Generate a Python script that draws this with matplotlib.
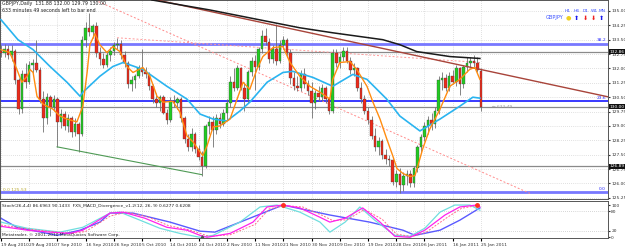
import numpy as np
import matplotlib
matplotlib.use("Agg")
import matplotlib.pyplot as plt

W, H = 625, 249

# daily GBPJPY bars (bar 0 = 19 Aug 2010, bar 136 = 25 Jan 2011)
bar_open = [132.9, 132.8, 133.0, 132.7, 132.9, 131.4, 129.9, 131.7, 131.3, 132.2,
            132.3, 131.9, 130.4, 129.4, 130.5, 130.0, 130.4, 129.2, 129.6, 129.0,
            129.4, 128.7, 129.1, 128.6, 133.5, 134.1, 133.9, 134.2, 132.8, 132.5,
            132.2, 132.7, 132.9, 133.2, 133.3, 132.7, 132.3, 131.2, 131.4, 131.6,
            132.0, 131.8, 131.7, 131.1, 130.4, 130.2, 130.5, 129.7, 129.3, 130.3,
            130.2, 130.4, 129.4, 128.3, 127.9, 128.6, 127.8, 127.4, 126.9, 129.0,
            129.2, 128.8, 129.4, 129.1, 129.7, 130.2, 131.3, 131.0, 132.0, 131.0,
            130.4, 131.8, 132.4, 132.1, 133.0, 133.7, 133.4, 132.5, 133.0, 132.4,
            133.2, 133.5, 132.8, 131.5, 131.1, 131.0, 131.7, 131.2, 130.8, 130.2,
            130.7, 130.5, 131.0, 130.4, 129.8, 132.8, 132.3, 132.6, 132.9, 132.4,
            131.9, 132.0, 131.0, 130.4, 129.8, 129.3, 128.5, 127.9, 128.2, 127.5,
            127.3, 127.2, 126.1, 126.5, 125.9, 126.4, 126.5, 126.0, 126.8, 127.9,
            128.4, 129.0, 129.3, 129.1, 129.8, 131.4, 131.5, 131.0, 131.6, 131.3,
            132.0, 131.2, 132.1, 132.3, 132.4, 132.3, 131.88]
bar_high = [133.2, 133.3, 133.2, 133.2, 133.0, 131.5, 131.9, 132.3, 132.4, 132.5,
            133.5, 132.1, 130.8, 130.7, 130.6, 130.6, 130.5, 129.9, 129.8, 129.6,
            129.5, 129.4, 129.2, 133.7, 134.4, 134.9, 134.3, 134.4, 133.1, 132.8,
            132.9, 133.1, 133.4, 133.6, 133.5, 132.9, 132.4, 131.6, 131.7, 132.2,
            133.0, 132.1, 131.8, 131.2, 130.7, 130.6, 130.6, 129.9, 130.5, 130.6,
            130.5, 130.5, 129.5, 128.6, 128.9, 128.7, 128.0, 127.7, 129.1, 129.5,
            129.5, 129.6, 129.7, 129.9, 130.4, 131.6, 132.0, 132.2, 132.1, 131.3,
            131.9, 132.6, 132.7, 133.1, 134.0, 134.1, 133.6, 133.2, 134.3, 133.5,
            133.7, 133.6, 133.0, 131.8, 131.6, 131.9, 132.0, 131.4, 131.3, 130.9,
            131.1, 131.2, 131.1, 130.5, 133.0, 133.0, 132.8, 133.1, 133.1, 132.6,
            132.3, 132.1, 131.3, 130.6, 130.0, 129.5, 128.9, 128.4, 128.3, 127.8,
            127.5, 127.3, 126.7, 126.8, 126.6, 126.7, 126.7, 126.9, 128.0, 128.6,
            129.2, 129.5, 129.7, 130.0, 131.6, 131.8, 131.7, 131.8, 131.9, 132.2,
            132.1, 132.2, 132.6, 132.6, 132.7, 132.6, 132.00]
bar_low = [132.6, 132.6, 132.5, 132.4, 131.2, 129.6, 129.7, 131.0, 131.2, 131.7,
           131.8, 130.2, 128.7, 129.1, 129.5, 129.8, 127.9, 128.9, 128.8, 128.7,
           128.4, 128.5, 127.65, 128.5, 133.1, 133.7, 133.6, 132.6, 132.2, 132.0,
           132.1, 132.4, 132.7, 133.0, 132.5, 132.1, 131.0, 130.8, 131.0, 131.5,
           131.6, 131.5, 130.9, 130.2, 130.0, 129.8, 129.6, 129.1, 129.2, 130.0,
           129.9, 129.2, 128.1, 127.7, 127.7, 127.6, 127.2, 126.4, 126.8, 128.6,
           127.9, 128.6, 128.9, 129.0, 129.3, 130.0, 130.8, 130.9, 130.9, 129.8,
           130.2, 131.6, 130.9, 131.9, 132.8, 133.2, 132.3, 132.3, 132.2, 132.3,
           133.0, 132.6, 131.2, 130.9, 130.8, 130.8, 131.0, 130.6, 129.4, 129.9,
           130.3, 130.3, 130.2, 129.6, 129.7, 132.1, 132.0, 132.4, 132.3, 131.7,
           131.6, 130.8, 130.2, 129.6, 129.1, 128.3, 127.7, 127.5, 127.3, 127.0,
           126.9, 125.9, 125.8, 125.52, 125.6, 125.9, 125.8, 125.8, 126.6, 127.6,
           128.2, 128.6, 128.8, 128.9, 129.6, 130.9, 130.8, 130.8, 131.2, 131.1,
           130.6, 131.0, 131.8, 132.0, 132.1, 131.8, 129.79]
bar_close = [132.8, 133.0, 132.7, 132.9, 131.4, 129.9, 131.7, 131.3, 132.2, 132.3,
             131.9, 130.4, 129.4, 130.5, 130.0, 130.4, 129.2, 129.6, 129.0, 129.4,
             128.7, 129.1, 128.6, 133.5, 134.1, 133.9, 134.2, 132.8, 132.5, 132.2,
             132.7, 132.9, 133.2, 133.3, 132.7, 132.3, 131.2, 131.4, 131.6, 132.0,
             131.8, 131.7, 131.1, 130.4, 130.2, 130.5, 129.7, 129.3, 130.3, 130.2,
             130.4, 129.4, 128.3, 127.9, 128.6, 127.8, 127.4, 126.9, 129.0, 129.2,
             128.8, 129.4, 129.1, 129.7, 130.2, 131.3, 131.0, 132.0, 131.0, 130.4,
             131.8, 132.4, 132.1, 133.0, 133.7, 133.4, 132.5, 133.0, 132.4, 133.2,
             133.5, 132.8, 131.5, 131.1, 131.0, 131.7, 131.2, 130.8, 130.2, 130.7,
             130.5, 131.0, 130.4, 129.8, 132.8, 132.3, 132.6, 132.9, 132.4, 131.9,
             132.0, 131.0, 130.4, 129.8, 129.3, 128.5, 127.9, 128.2, 127.5, 127.3,
             127.2, 126.1, 126.5, 125.9, 126.4, 126.5, 126.0, 126.8, 127.9, 128.4,
             129.0, 129.3, 129.1, 129.8, 131.4, 131.5, 131.0, 131.6, 131.3, 132.0,
             131.2, 132.1, 132.3, 132.4, 132.3, 131.9, 130.00]

# moving averages (bar index, price)
fast_ma_x = [0, 2.5, 4.5, 5.9, 7.4, 8.2, 9.1, 10.2, 11.9, 14.7, 16.7, 18.7, 21.5, 23.2,
             24.4, 25.2, 26.6, 28, 30, 31.7, 33.7, 35.7, 37.4, 40.2, 42.2, 44.2, 45.9,
             48.7, 50.7, 52.7, 54.4, 56.4, 57.2, 58.4, 60.1, 62, 64.9, 66.9, 68.6, 70.5,
             72.5, 74.2, 77.1, 79.9, 81.9, 83.9, 84.7, 87.5, 90.4, 93.2, 94, 96, 98.9,
             100.8, 103.7, 105.4, 107.4, 109.3, 111, 112.2, 113.9, 115.9, 117.3, 118.7,
             119.5, 121.5, 124.4, 127.2, 130, 132.8, 134.3, 135.7]
fast_ma_y = [132.98, 132.83, 131.95, 131.28, 131.59, 131.95, 131.79, 130.55, 130.14,
             129.88, 129.52, 129.36, 129.21, 130.03, 131.79, 133.24, 133.81, 133.24,
             132.83, 133.14, 132.88, 132.10, 131.79, 132.05, 131.59, 130.55, 130.24,
             130.29, 129.72, 128.48, 128.17, 127.65, 127.45, 127.97, 128.95, 129.0,
             129.36, 130.40, 131.28, 130.91, 131.95, 132.62, 133.09, 133.14, 132.31,
             131.79, 131.59, 131.07, 130.76, 130.40, 131.43, 132.31, 132.36, 131.95,
             131.07, 130.24, 129.36, 128.33, 127.45, 126.78, 126.52, 126.36, 126.41,
             127.29, 127.81, 128.84, 129.88, 131.07, 131.43, 131.95, 132.05, 131.43]
mid_ma_x = [0, 4.8, 9.1, 13.9, 18.7, 22.4, 23.2, 28, 31.7, 34.6, 40.2, 47, 52.7, 56.4,
            60.1, 64, 67.7, 70.5, 75.4, 79.9, 82.7, 88.4, 94, 99.7, 103.7, 109.3, 113,
            118.7, 124.4, 130, 133.7, 135.7]
mid_ma_y = [134.54, 133.50, 132.98, 132.10, 131.28, 130.55, 130.76, 131.59, 132.10,
            132.31, 131.95, 131.07, 130.40, 129.62, 129.36, 129.26, 129.78, 130.24,
            131.28, 131.79, 131.85, 131.53, 131.07, 131.69, 131.43, 130.40, 129.52,
            128.74, 129.36, 130.03, 130.50, 130.45]
slow_ma_x = [42.8, 59.2, 84.7, 94, 108.2, 113, 117.8, 127.2, 135.7]
slow_ma_y = [135.57, 135.05, 134.12, 133.86, 133.50, 133.24, 132.88, 132.62, 132.52]

# drawn objects
fib_levels = [133.29, 130.29, 125.53]
fib_names = ["38.2", "23.6", "0.0"]
marker_prices = [132.86, 130.00, 126.89]
trend_brown = ([44.2, 172.0], [135.57, 130.52])
trend_pink = ([26.6, 149.9], [135.57, 125.48])
trend_pink2 = ([32.9, 135.7], [133.60, 132.31])
trend_green = ([15.9, 56.9], [127.91, 126.46])

# oscillator window (bar index, value)
osc_blue_x = [0, 4.5, 15.9, 22.4, 28, 30.9, 37.4, 47.9, 56.4, 60.6, 70.5, 79.9, 93.2,
              104.5, 113.9, 117.3, 124.4, 130, 135.7]
osc_blue_y = [59, 31, 6, 22, 47, 75, 75, 47, 19, 16, 59, 100, 69, 47, 22, 6, 22, 53, 91]
osc_mag_x = [0, 7.4, 13.9, 19.5, 23.2, 30.9, 34.6, 40.8, 47, 52.7, 56.4, 58.4, 64.9,
             71.4, 75.4, 79.9, 84.7, 90.4, 93.2, 97.5, 102.5, 107.4, 111.6, 115.9,
             120.1, 125.8, 130, 134.8, 135.7]
osc_mag_y = [34, 22, 16, 12, 22, 75, 78, 59, 31, 22, 6, 0, 12, 47, 94, 100, 91, 62,
             47, 59, 91, 47, 3, 0, 22, 69, 94, 100, 94]
osc_sig_x = [0, 7.4, 14, 20, 24, 31, 35.5, 41.5, 47.5, 53, 57, 59, 65, 72, 76, 80.5,
             85.5, 91, 94, 98, 103, 108, 112, 116.5, 120.5, 126.5, 130.5, 134.8, 135.7]
osc_sig_y = [38, 26, 18, 12, 18, 66, 78, 64, 36, 24, 10, 3, 8, 40, 88, 98, 94, 68, 52,
             54, 86, 56, 10, 2, 16, 62, 90, 98, 97]
osc_cyan_x = [0, 7.4, 16.7, 23.2, 30.9, 33.7, 39.4, 45, 50.7, 56.4, 60.1, 67.7, 73.4,
              78.2, 84.7, 90.4, 93.2, 97.5, 101.7, 105.9, 111.6, 115.9, 120.1, 124.4,
              128.6, 132.9, 135.7]
osc_cyan_y = [47, 28, 16, 31, 75, 78, 53, 28, 12, 0, 6, 47, 94, 100, 78, 47, 16, 47,
              94, 53, 6, 3, 28, 78, 100, 100, 84]

date_ticks = list(range(0, 137, 8))
date_labels = ["19 Aug 2010", "29 Aug 2010", "7 Sep 2010", "16 Sep 2010", "26 Sep 2010",
               "5 Oct 2010", "14 Oct 2010", "24 Oct 2010", "2 Nov 2010", "11 Nov 2010",
               "21 Nov 2010", "30 Nov 2010", "9 Dec 2010", "19 Dec 2010", "28 Dec 2010",
               "6 Jan 2011", "16 Jan 2011", "25 Jan 2011"]

FS = 3.2  # MT4 uses a tiny bitmap font


def fx(x):
    return x / W


def fy(y):
    return 1 - y / H


fig = plt.figure(figsize=(W / 100, H / 100), dpi=100, facecolor="white")
ax = fig.add_axes([0, fy(199), fx(608), fy(0) - fy(199)])
ax2 = fig.add_axes([0, fy(238), fx(608), fy(201) - fy(238)])

for a in (ax, ax2):
    a.set_xlim(-0.28, 172)
    a.set_xticks(date_ticks)
    a.grid(True, color="#c4c4c4", linestyle=(0, (1, 2)), lw=0.5)
    a.set_axisbelow(True)
    for s in a.spines.values():
        s.set_color("#555555")
        s.set_linewidth(0.7)
    a.yaxis.tick_right()
    a.tick_params(axis="y", labelsize=FS, length=1.5, pad=0.8, colors="#333333")

ax.set_ylim(125.19, 135.57)
ax.set_yticks(np.arange(125.25, 135.01, 0.75))
ax.set_yticklabels(["%.2f" % v for v in np.arange(125.25, 135.01, 0.75)])
ax.tick_params(axis="x", length=0, labelbottom=False)

# candles
idx = np.arange(len(bar_close))
o = np.array(bar_open)
c = np.array(bar_close)
up = c >= o
ax.vlines(idx, bar_low, bar_high, color="#707070", lw=0.6, zorder=3)
body = np.where(np.abs(c - o) < 0.05, np.where(up, 0.05, -0.05), c - o)
ax.bar(idx, body, bottom=o, width=0.72,
       color=np.where(up, "#22cc22", "#ee2a1a"), edgecolor="#404040", lw=0.25, zorder=4)

# horizontal levels
ax.axhline(fib_levels[0], color="#7878ff", lw=2.0, zorder=2)
ax.axhline(fib_levels[1], color="#2a2aff", lw=1.3, zorder=2)
ax.axhline(fib_levels[2], color="#7878ff", lw=2.0, zorder=2)
for p in marker_prices:
    ax.axhline(p, color="#8a8a8a", lw=0.9, zorder=2)

# trend lines
ax.plot(*trend_pink, color="#ff8a8a", lw=0.7, linestyle=(0, (2, 2)), zorder=2)
ax.plot(*trend_pink2, color="#ff9a9a", lw=0.7, linestyle=(0, (2, 2)), zorder=2)
ax.plot(*trend_brown, color="#a8443a", lw=1.0, zorder=5)
ax.plot(*trend_green, color="#4f9a55", lw=0.8, zorder=5)

# moving averages
ax.plot(slow_ma_x, slow_ma_y, color="#1a1a1a", lw=1.1, zorder=6)
ax.plot(mid_ma_x, mid_ma_y, color="#2ab4f0", lw=1.2, zorder=6)
ax.plot(fast_ma_x, fast_ma_y, color="#ff8c10", lw=1.0, zorder=7)

# fib labels on the right edge
for lv, nm in zip(fib_levels, fib_names):
    ax.text(171.4, lv + 0.07, nm, color="#2a2aff", fontsize=FS, ha="right", va="bottom")

ax.text(139, 130.0, "\u2190 633:49", color="#9a9a9a", fontsize=FS, va="center")
ax.text(0.5, 125.53 + 0.05, "0.0 125.53", color="#b8a830", fontsize=FS, va="bottom")

# oscillator window
ax2.set_ylim(-2.2, 112.5)
ax2.set_yticks([0, 20, 80, 100])
ax2.set_yticklabels(["0", "20", "80", "100"])
ax2.grid(False)
for v in date_ticks:
    ax2.axvline(v, color="#c4c4c4", linestyle=(0, (1, 2)), lw=0.5, zorder=0)
ax2.axhline(20, color="#b0b0b0", linestyle=(0, (1, 2)), lw=0.5)
ax2.axhline(80, color="#b0b0b0", linestyle=(0, (1, 2)), lw=0.5)
ax2.plot(osc_blue_x, osc_blue_y, color="#5a5aff", lw=1.0)
ax2.plot(osc_cyan_x, osc_cyan_y, color="#6fdede", lw=0.9)
ax2.plot(osc_sig_x, osc_sig_y, color="#ff6a8a", lw=0.7, linestyle=(0, (2, 1.5)))
ax2.plot(osc_mag_x, osc_mag_y, color="#ff22ee", lw=0.9)
ax2.plot([79.9, 134.8], [100, 100], "o", color="#ff3020", ms=2.5)
ax2.plot([57], [2], "^", color="#505050", ms=2.5)
ax2.set_xticklabels(date_labels, fontsize=FS, ha="left", color="#333333")
ax2.tick_params(axis="x", length=2, pad=1.5)
ax2.text(0.004, 0.93, "Stoch(26,4,4) 86.6963 90.1433  FXS_MACD_Divergence_v1.2(12, 26, 9) 0.6277 0.6208",
         transform=ax2.transAxes, fontsize=FS, va="top", color="#222222")
ax2.text(0.004, 0.04, "Metatrader, \u00a9 2001-2010 MetaQuotes Software Corp.",
         transform=ax2.transAxes, fontsize=FS, va="bottom", color="#222222")

# header
fig.text(fx(2), fy(4), "GBPJPY,Daily  131.88 132.00 129.79 130.00", fontsize=FS + 0.2,
         va="center", color="#222222")
fig.text(fx(2), fy(10), "633 minutes 49 seconds left to bar end", fontsize=FS + 0.2,
         va="center", color="#222222")

# timeframe trend panel
fig.text(fx(563), fy(18), "GBPJPY", fontsize=FS + 0.4, ha="right", va="center", color="#3a50ff")
tf_names = ["H1", "H4", "D1", "W1", "MN"]
tf_x = [568, 577, 586, 594, 602]
for nm, xx in zip(tf_names, tf_x):
    fig.text(fx(xx), fy(11), nm, fontsize=FS, ha="center", va="center", color="#3a50ff")
fig.text(fx(568), fy(18), "\u25cf", fontsize=4.5, ha="center", va="center", color="#f0d020")
fig.text(fx(577), fy(18), "\u2b06", fontsize=4.5, ha="center", va="center", color="#1a1aee")
fig.text(fx(586), fy(18), "\u2b07", fontsize=4.5, ha="center", va="center", color="#ee2020")
fig.text(fx(594), fy(18), "\u2b07", fontsize=4.5, ha="center", va="center", color="#ee2020")
fig.text(fx(602), fy(18), "\u2b06", fontsize=4.5, ha="center", va="center", color="#1a1aee")

# price boxes on the right scale
for p in marker_prices:
    ypix = (135.57 - p) * 199 / (135.57 - 125.19)
    fig.text(fx(609.5), fy(ypix), "%.2f" % p, fontsize=FS, va="center", color="white",
             bbox=dict(boxstyle="square,pad=0.12", fc="#111111", ec="none"))

fig.savefig("out.png", dpi=100, facecolor="white")
